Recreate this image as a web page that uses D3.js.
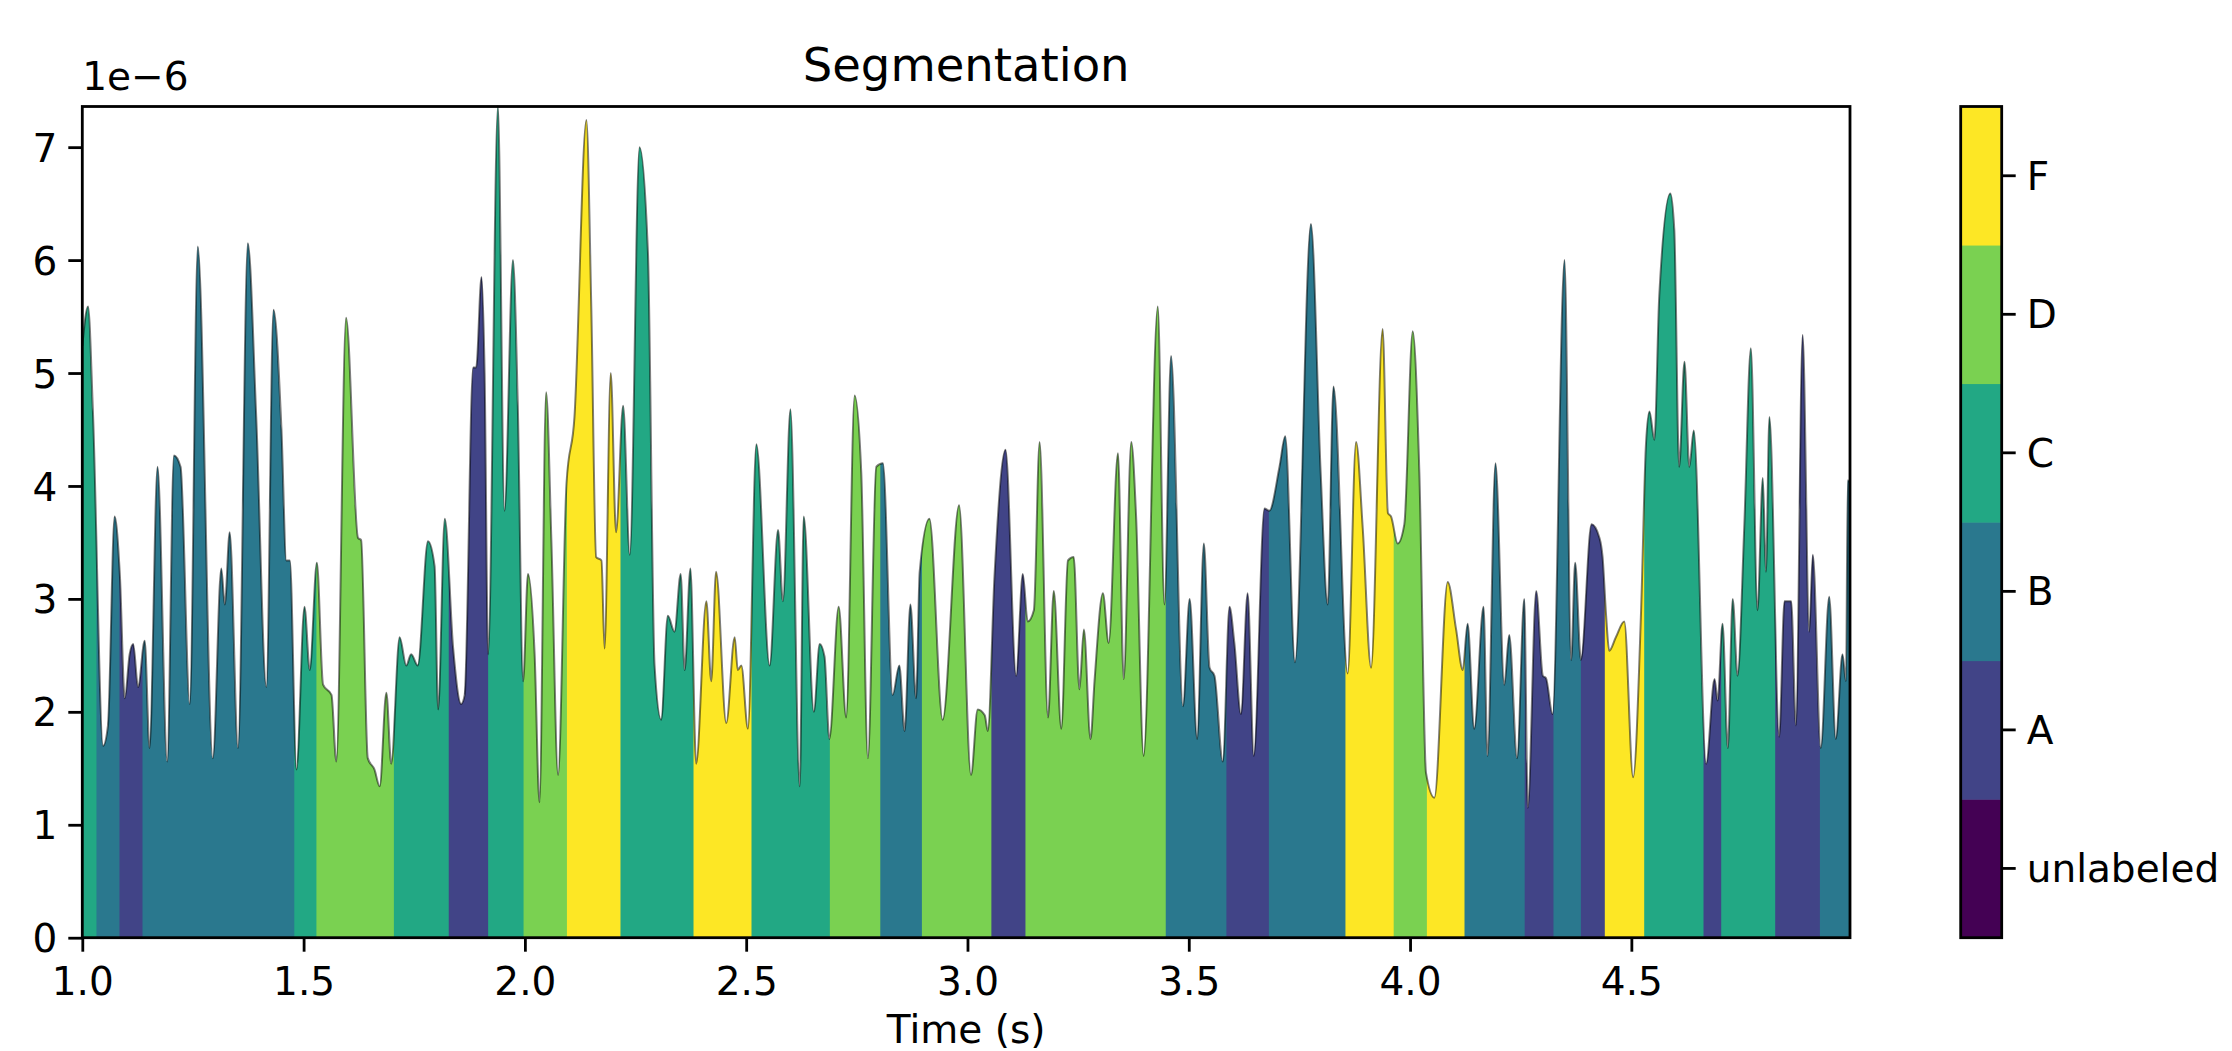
<!DOCTYPE html>
<html>
<head>
<meta charset="utf-8">
<script src="https://cdn.jsdelivr.net/npm/d3@7/dist/d3.min.js"></script>
<style>
  body { margin: 0; background: #fff; }
  svg { display: block; }
  text { font-family: "DejaVu Sans", sans-serif; }
  .axis { font-family: "DejaVu Sans", sans-serif; }
  .axis text { font-size: 39px; fill: #000; }
  .axis line { stroke: #000; stroke-width: 2.8; }
  .axis path { display: none; }
  .spine { fill: none; stroke: #000; stroke-width: 2.8; }
  .title { font-size: 46.5px; fill: #000; }
  .axisLabel { font-size: 39px; fill: #000; }
  .trace { fill: none; stroke: #000; stroke-opacity: 0.5; stroke-width: 2; stroke-linejoin: round; }
</style>
</head>
<body>
<div id="chart"></div>
<script>
// Waveform envelope.
// Amplitudes are in units of 1e-6 (the axis offset text).
const timeSec = [
  1.000, 1.013, 1.024, 1.047, 1.058, 1.073, 1.085, 1.096, 1.107, 1.115,
  1.126, 1.141, 1.152, 1.170, 1.192, 1.207, 1.222, 1.243, 1.261, 1.295,
  1.314, 1.322, 1.333, 1.352, 1.374, 1.393, 1.416, 1.432, 1.450, 1.461,
  1.469, 1.484, 1.502, 1.514, 1.530, 1.544, 1.563, 1.574, 1.596, 1.623,
  1.630, 1.645, 1.660, 1.672, 1.687, 1.698, 1.717, 1.732, 1.743, 1.758,
  1.781, 1.796, 1.804, 1.819, 1.838, 1.856, 1.864, 1.883, 1.890, 1.902,
  1.909, 1.917, 1.939, 1.954, 1.973, 1.984, 1.996, 2.007, 2.022, 2.033,
  2.048, 2.060, 2.075, 2.094, 2.112, 2.139, 2.150, 2.161, 2.173, 2.180,
  2.194, 2.206, 2.222, 2.237, 2.259, 2.278, 2.293, 2.308, 2.323, 2.338,
  2.352, 2.361, 2.374, 2.387, 2.410, 2.421, 2.432, 2.455, 2.474, 2.481,
  2.489, 2.504, 2.523, 2.553, 2.572, 2.583, 2.600, 2.621, 2.630, 2.653,
  2.666, 2.677, 2.688, 2.709, 2.726, 2.745, 2.760, 2.775, 2.794, 2.809,
  2.831, 2.846, 2.858, 2.871, 2.884, 2.892, 2.914, 2.944, 2.981, 3.008,
  3.023, 3.039, 3.046, 3.061, 3.086, 3.110, 3.125, 3.136, 3.150, 3.163,
  3.182, 3.195, 3.212, 3.227, 3.240, 3.253, 3.263, 3.278, 3.287, 3.306,
  3.319, 3.340, 3.353, 3.370, 3.381, 3.398, 3.430, 3.445, 3.460, 3.487,
  3.502, 3.519, 3.534, 3.547, 3.558, 3.577, 3.592, 3.603, 3.618, 3.633,
  3.647, 3.671, 3.682, 3.705, 3.718, 3.740, 3.776, 3.798, 3.814, 3.827,
  3.859, 3.878, 3.893, 3.912, 3.938, 3.950, 3.957, 3.972, 3.987, 4.006,
  4.021, 4.036, 4.055, 4.085, 4.104, 4.119, 4.130, 4.145, 4.166, 4.175,
  4.193, 4.213, 4.224, 4.242, 4.258, 4.266, 4.285, 4.300, 4.307, 4.322,
  4.349, 4.364, 4.373, 4.386, 4.410, 4.428, 4.435, 4.443, 4.450, 4.465,
  4.484, 4.504, 4.522, 4.533, 4.541, 4.552, 4.563, 4.588, 4.597, 4.608,
  4.620, 4.631, 4.641, 4.669, 4.688, 4.695, 4.706, 4.718, 4.729, 4.740,
  4.755, 4.770, 4.785, 4.797, 4.804, 4.812, 4.834, 4.846, 4.861, 4.872,
  4.887, 4.902, 4.910, 4.928, 4.947, 4.962, 4.977, 4.985, 4.989, 4.994
];

const amplitude = [
  5.24, 5.59, 4.66, 1.70, 1.88, 3.73, 3.20, 2.12, 2.51, 2.60,
  2.22, 2.63, 1.68, 4.17, 1.56, 4.27, 4.17, 2.07, 6.12, 1.59,
  3.27, 2.95, 3.59, 1.68, 6.15, 4.61, 2.22, 5.56, 4.50, 3.34,
  3.34, 1.49, 2.93, 2.37, 3.32, 2.24, 2.15, 1.56, 5.49, 3.54,
  3.52, 1.59, 1.49, 1.34, 2.17, 1.54, 2.66, 2.41, 2.51, 2.41,
  3.51, 3.29, 2.02, 3.71, 2.56, 2.07, 2.15, 5.05, 5.05, 5.85,
  5.00, 2.51, 7.36, 3.78, 6.00, 4.71, 2.27, 3.22, 2.51, 1.20,
  4.83, 3.50, 1.44, 4.02, 4.61, 7.24, 5.59, 3.37, 3.34, 2.56,
  5.00, 3.59, 4.71, 3.39, 7.00, 6.07, 2.41, 1.93, 2.85, 2.71,
  3.22, 2.37, 3.27, 1.54, 2.98, 2.27, 3.24, 1.90, 2.66, 2.37,
  2.41, 1.85, 4.37, 2.41, 3.61, 2.98, 4.68, 1.34, 3.73, 2.00,
  2.60, 2.49, 1.76, 2.93, 1.95, 4.80, 4.12, 1.59, 4.17, 4.20,
  2.15, 2.41, 1.83, 2.95, 2.12, 3.24, 3.71, 1.93, 3.83, 1.44,
  2.02, 1.97, 1.83, 3.20, 4.32, 2.32, 3.22, 2.80, 2.90, 4.39,
  1.95, 3.07, 1.85, 3.34, 3.37, 2.20, 2.73, 1.76, 2.27, 3.05,
  2.61, 4.29, 2.29, 4.39, 3.73, 1.61, 5.59, 2.95, 5.15, 2.05,
  3.00, 1.76, 3.49, 2.39, 2.32, 1.56, 2.93, 2.61, 1.98, 3.05,
  1.61, 3.80, 3.78, 4.17, 4.44, 2.44, 6.32, 4.12, 2.95, 4.88,
  2.34, 4.39, 3.63, 2.39, 5.39, 3.76, 3.73, 3.49, 3.66, 5.37,
  4.12, 1.46, 1.24, 3.15, 2.73, 2.37, 2.78, 1.85, 2.93, 1.61,
  4.20, 2.24, 2.68, 1.59, 3.00, 1.15, 3.07, 2.32, 2.30, 1.98,
  6.00, 2.46, 3.32, 2.46, 3.66, 3.54, 3.37, 2.85, 2.54, 2.66,
  2.80, 1.42, 2.90, 4.37, 4.66, 4.41, 5.68, 6.59, 6.27, 4.17,
  5.10, 4.17, 4.49, 1.54, 2.29, 2.10, 2.78, 1.68, 3.00, 2.32,
  3.63, 5.22, 2.90, 4.07, 3.24, 4.61, 1.78, 2.98, 2.98, 1.88,
  5.34, 2.71, 3.39, 1.68, 3.02, 1.76, 2.51, 2.27, 4.05, 4.03
];

// Segment boundaries (s) and the label of each segment between them.
const segmentBounds = [
  1.000, 1.032, 1.084, 1.136, 1.479, 1.529, 1.704, 1.828, 1.917, 1.997,
  2.095, 2.216, 2.381, 2.512, 2.689, 2.803, 2.897, 3.054, 3.131, 3.448,
  3.585, 3.681, 3.854, 3.963, 4.038, 4.123, 4.259, 4.324, 4.386, 4.440,
  4.529, 4.663, 4.703, 4.825, 4.926, 4.994
];
const segmentLabels = [
  "C", "B", "A", "B", "C", "D", "C", "A", "C", "D",
  "F", "C", "F", "C", "D", "B", "D", "A", "D", "B",
  "A", "B", "F", "D", "F", "B", "A", "B", "A", "F",
  "C", "A", "C", "A", "B"
];

// Classes of the colour bar, bottom to top.
const classNames = ["unlabeled", "A", "B", "C", "D", "F"];

// Tick values.
const xTicks = [1.0, 1.5, 2.0, 2.5, 3.0, 3.5, 4.0, 4.5];
const yTicks = [0, 1, 2, 3, 4, 5, 6, 7];

/**
 * Module local variables.
 */
const width = 2232;
const height = 1051;

// Plot frame in absolute pixels.
const frame = { left: 82.3, right: 1850, top: 106.5, bottom: 937.7 };

// Colour bar frame.
const cbar = { left: 1960.7, right: 2001.7 };

let svg = null;
let xScale = null;
let yScale = null;
let classColor = null;

/**
 * Initialization Functions
 */

function initializeSvg() {
  svg = d3.select("#chart")
    .append("svg")
    .attr("width", width)
    .attr("height", height);
}

function initializeScales() {
  xScale = d3.scaleLinear()
    .domain([1.0, 4.994])
    .range([frame.left, frame.right]);

  yScale = d3.scaleLinear()
    .domain([0, 7.36])
    .range([frame.bottom, frame.top]);

  // Discrete viridis: one colour per class, evenly spaced.
  classColor = d3.scaleOrdinal()
    .domain(classNames)
    .range(classNames.map((d, i) => d3.interpolateViridis(i / (classNames.length - 1))));
}

function drawSegments() {
  const points = timeSec.map((t, i) => [t, amplitude[i]]);

  const area = d3.area()
    .curve(d3.curveMonotoneX)
    .x((d) => xScale(d[0]))
    .y0(yScale(0))
    .y1((d) => yScale(d[1]));

  const line = d3.line()
    .curve(d3.curveMonotoneX)
    .x((d) => xScale(d[0]))
    .y((d) => yScale(d[1]));

  const defs = svg.append("defs");
  const segments = segmentLabels.map((label, i) => ({
    label: label,
    start: segmentBounds[i],
    end: segmentBounds[i + 1]
  }));

  // Each segment is the same area, clipped to its own time span.
  segments.forEach((s, i) => {
    const x0 = xScale(s.start);
    const x1 = Math.min(xScale(s.end) + 0.8, frame.right);
    defs.append("clipPath")
      .attr("id", `seg${i}`)
      .append("rect")
      .attr("x", x0)
      .attr("y", frame.top)
      .attr("width", x1 - x0)
      .attr("height", frame.bottom - frame.top);
  });

  svg.append("g")
    .selectAll("path")
    .data(segments)
    .join("path")
    .attr("clip-path", (d, i) => `url(#seg${i})`)
    .attr("fill", (d) => classColor(d.label))
    .attr("d", area(points));

  svg.append("path")
    .attr("class", "trace")
    .attr("d", line(points));
}

function initializeAxis() {
  // X axis - Time.
  svg.append("g")
    .attr("class", "axis")
    .attr("transform", `translate(0,${frame.bottom})`)
    .call(d3.axisBottom(xScale)
            .tickValues(xTicks)
            .tickFormat(d3.format(".1f"))
            .tickSizeInner(14)
            .tickSizeOuter(0)
            .tickPadding(16))
    .attr("font-family", null);

  // Y axis - Amplitude.
  svg.append("g")
    .attr("class", "axis")
    .attr("transform", `translate(${frame.left},0)`)
    .call(d3.axisLeft(yScale)
            .tickValues(yTicks)
            .tickFormat(d3.format("d"))
            .tickSizeInner(14)
            .tickSizeOuter(0)
            .tickPadding(11))
    .attr("font-family", null)
    .selectAll("text")
    .attr("dy", "0.36em");

  // Frame.
  svg.append("rect")
    .attr("class", "spine")
    .attr("x", frame.left)
    .attr("y", frame.top)
    .attr("width", frame.right - frame.left)
    .attr("height", frame.bottom - frame.top);

  // Offset text, title and x label.
  svg.append("text")
    .attr("class", "axisLabel")
    .attr("x", frame.left)
    .attr("y", 90)
    .text("1e\u22126");

  svg.append("text")
    .attr("class", "title")
    .attr("text-anchor", "middle")
    .attr("x", (frame.left + frame.right) / 2)
    .attr("y", 81)
    .text("Segmentation");

  svg.append("text")
    .attr("class", "axisLabel")
    .attr("text-anchor", "middle")
    .attr("x", (frame.left + frame.right) / 2)
    .attr("y", 1043)
    .text("Time (s)");
}

function initializeColorbar() {
  // Classes stacked bottom (unlabeled) to top (F).
  const bandScale = d3.scaleBand()
    .domain(classNames.slice().reverse())
    .range([frame.top, frame.bottom])
    .padding(0);

  svg.append("g")
    .selectAll("rect")
    .data(classNames)
    .join("rect")
    .attr("x", cbar.left)
    .attr("y", (d) => bandScale(d))
    .attr("width", cbar.right - cbar.left)
    .attr("height", bandScale.bandwidth() + 0.5)
    .attr("fill", (d) => classColor(d));

  svg.append("g")
    .attr("class", "axis")
    .attr("transform", `translate(${cbar.right},0)`)
    .call(d3.axisRight(bandScale)
            .tickSizeInner(14)
            .tickSizeOuter(0)
            .tickPadding(11))
    .attr("font-family", null)
    .selectAll("text")
    .attr("dy", "0.36em");

  svg.append("rect")
    .attr("class", "spine")
    .attr("x", cbar.left)
    .attr("y", frame.top)
    .attr("width", cbar.right - cbar.left)
    .attr("height", frame.bottom - frame.top);
}

initializeSvg();
initializeScales();
drawSegments();
initializeAxis();
initializeColorbar();
</script>
</body>
</html>
